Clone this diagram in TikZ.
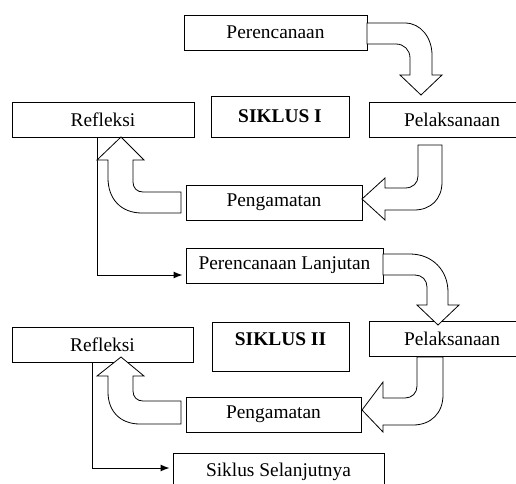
\documentclass[tikz,border=0pt]{standalone}
\usepackage{fontspec}
\setmainfont{Liberation Serif}
\usepackage{tikz}
\usetikzlibrary{arrows.meta,backgrounds}

\begin{document}
\begin{tikzpicture}[
      x=1pt,
      y=-1pt,
      stepbox/.style={
        draw,
        line width=1pt,
        fill=white,
        inner sep=0pt,
        minimum height=35pt,
        align=center,
        font=\fontsize{19.4}{23}\selectfont
      },
      cyclebox/.style={stepbox, font=\fontsize{19.4}{23}\selectfont\bfseries},
      fatarrow/.style={draw, line width=0.8pt, fill=white, line join=miter},
      flow/.style={-{Latex[length=9pt,width=7pt]}, line width=1pt}
    ]
    \useasboundingbox (0,0) rectangle (516,483);

    % siklus I
    \node[stepbox, minimum width=183pt] (plan1) at (275.5,32.5) {Perencanaan};
    \node[cyclebox, minimum width=138pt, minimum height=41pt] (cyc1) at (280,116.5)
      {SIKLUS I};
    \node[stepbox, minimum width=166pt] (act1) at (452,119.5) {Pelaksanaan};
    \node[stepbox, minimum width=182pt] (refl1) at (103,119.5) {Refleksi};
    \node[stepbox, minimum width=176pt] (obs1) at (274,202.5) {Pengamatan};
    \node[stepbox, minimum width=197pt] (plan2) at (284.5,265.5)
      {Perencanaan Lanjutan};

    % siklus II
    \node[cyclebox, minimum width=137pt, minimum height=49pt, text depth=15pt]
      (cyc2) at (280.5,346.5) {SIKLUS II};
    \node[stepbox, minimum width=166pt] (act2) at (452,338.5) {Pelaksanaan};
    \node[stepbox, minimum width=181pt] (refl2) at (102.5,344.5) {Refleksi};
    \node[stepbox, minimum width=175pt] (obs2) at (273.5,414.5) {Pengamatan};
    \node[stepbox, minimum width=211pt, minimum height=38pt] (next) at (278.5,472)
      {Siklus Selanjutnya};

    % perencanaan -> pelaksanaan
    \draw[fatarrow] (367,23) -- (405,23) .. controls (421,23) and (432,38) .. (432,55)
      -- (432,75) -- (442,75) -- (421,95) -- (400,75) -- (410,75) -- (410,58)
      .. controls (410,50) and (404,44) .. (396,44) -- (367,44) -- cycle;
    % pelaksanaan -> pengamatan
    \draw[fatarrow] (418,145) -- (442,145) -- (442,182)
      .. controls (442,199) and (431,210) .. (414,210) -- (385,210) -- (385,220)
      -- (362,199) -- (385,178) -- (385,188) -- (405,188)
      .. controls (413,188) and (418,183) .. (418,176) -- cycle;
    % pengamatan -> refleksi
    \draw[fatarrow] (181,192) -- (143,192) .. controls (137,192) and (133,188) .. (133,182)
      -- (133,160) -- (144,160) -- (121,137) -- (97,160) -- (108,160) -- (108,178)
      .. controls (108,199) and (121,213) .. (142,213) -- (181,213) -- cycle;

    % perencanaan lanjutan -> pelaksanaan
    \draw[fatarrow] (383,254) -- (410,254) .. controls (432,254) and (448,270) .. (448,292)
      -- (448,305) -- (459,305) -- (438,325) -- (417,305) -- (427,305) -- (427,287)
      .. controls (427,280) and (422,275) .. (415,275) -- (383,275) -- cycle;
    % pelaksanaan -> pengamatan
    \draw[fatarrow] (417,357) -- (443,357) -- (443,395)
      .. controls (443,413) and (431,425) .. (413,425) -- (383,425) -- (383,432)
      -- (362,410) -- (383,382) -- (383,398) -- (405,398)
      .. controls (412,398) and (417,393) .. (417,386) -- cycle;
    % pengamatan -> refleksi
    \draw[fatarrow] (181,401) -- (143,401) .. controls (137,401) and (133,397) .. (133,391)
      -- (133,376) -- (144,376) -- (121,357) -- (97,376) -- (108,376) -- (108,392)
      .. controls (108,411) and (120,424) .. (140,424) -- (181,424) -- cycle;

    \begin{scope}[on background layer]
    \draw[flow, shorten >=3pt] ([xshift=-6pt]refl1.south) |- ([yshift=-9.5pt]plan2.west);
    \draw[flow, shorten >=3pt] ([xshift=-10.5pt]refl2.south) |- ([yshift=4pt]next.west);
    \end{scope}
  \end{tikzpicture}
\end{document}
